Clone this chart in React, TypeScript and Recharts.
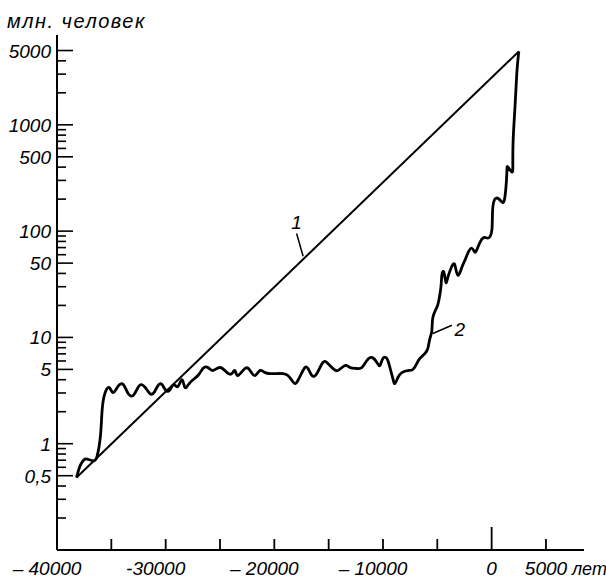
import React from "react";
import {
	LineChart,
	Line,
	XAxis,
	YAxis,
	ReferenceLine,
	ReferenceDot,
} from "recharts";

// line 1: straight trend (log scale)
const trendYears = [-38200, 2500];
const trendValues = [0.48, 4900];

// line 2: traced population curve
const curveYears = [
	-38200, -37900, -37500, -37100, -36600, -36300, -36000, -35850, -35600, -35200,
	-34850, -34400, -33900, -33450, -33000, -32650, -32270, -31800, -31450, -31080,
	-30700, -30340, -29970, -29600, -29240, -28870, -28500, -28220, -27760, -27030,
	-26570, -26110, -25650, -25000, -24360, -23900, -23620, -23350, -22700, -22240,
	-21780, -21320, -20860, -20400, -19760, -19210, -18750, -18380, -18100, -17830,
	-17460, -17180, -16900, -16540, -16080, -15530, -15070, -14610, -14150, -13500,
	-13040, -12400, -11940, -11480, -11020, -10560, -10280, -10010, -9640, -9360,
	-9090, -8900, -8630, -8260, -7710, -7250, -6880, -6600, -6140, -5870,
	-5680, -5500, -5410, -5040, -4860, -4670, -4580, -4400, -4210, -4030,
	-3660, -3380, -3110, -2740, -2460, -2190, -1820, -1540, -1270, -810,
	-350, 20, 110, 480, 940, 1220, 1400, 1490, 1860, 1950,
	1980, 2150, 2320, 2500,
];
const curveValues = [
	0.48, 0.61, 0.71, 0.71, 0.69, 0.77, 1.19, 2.05, 2.96, 3.38,
	3.03, 3.45, 3.6, 2.96, 2.84, 3.23, 3.6, 3.3, 2.96, 3.03,
	3.53, 3.6, 3.16, 3.23, 3.6, 3.45, 4.0, 3.38, 3.76, 4.38,
	5.1, 5.21, 4.88, 5.21, 4.67, 4.57, 4.88, 4.38, 5.1, 4.88,
	4.38, 4.88, 4.67, 4.57, 4.57, 4.57, 4.38, 3.93, 3.68, 3.93,
	4.67, 5.21, 5.1, 4.38, 4.57, 5.81, 5.69, 5.1, 4.88, 5.44,
	5.21, 5.1, 5.21, 6.07, 6.48, 5.81, 5.44, 6.34, 6.34, 5.21,
	4.1, 3.68, 4.19, 4.67, 4.88, 4.99, 5.69, 6.34, 7.06, 7.87,
	9.79, 11.6, 15.4, 19.2, 22.3, 29.6, 38.5, 41, 33, 36.8,
	46.7, 47.8, 38.5, 45.7, 53.2, 62, 69, 63.4, 70.6, 86,
	86, 102, 168, 205, 188, 209, 352, 402, 360, 420,
	722, 1480, 3100, 4900,
];

const xTicks = [-40000, -35000, -30000, -25000, -20000, -15000, -10000, -5000, 0, 5000];
const xLabelValues = [-40000, -30000, -20000, -10000, 0, 5000];
const xLabelTexts = ["–  40000", "-30000", "– 20000", "– 10000", "0", "5000"];

const yTicks = [
	0.2, 0.3, 0.4, 0.5, 0.6, 0.7, 0.8, 0.9, 1,
	2, 3, 4, 5, 6, 7, 8, 9, 10,
	20, 30, 40, 50, 60, 70, 80, 90, 100,
	200, 300, 400, 500, 600, 700, 800, 900, 1000,
	2000, 3000, 4000, 5000,
];
const yLabelValues = [0.5, 1, 5, 10, 50, 100, 500, 1000, 5000];
const yLabelTexts = ["0,5", "1", "5", "10", "50", "100", "500", "1000", "5000"];

const trendData = trendYears.map((x, i) => ({ x, y: trendValues[i] }));
const curveData = curveYears.map((x, i) => ({ x, y: curveValues[i] }));

const FONT = "'Liberation Sans', Arial, sans-serif";
const textStyle = { fontFamily: FONT, fontStyle: "italic", fontSize: 19, fill: "#000" } as const;


function XTick(props: any) {
	const { x, y, payload } = props;
	const v = payload.value;
	const len = v === 0 ? 23 : v === -40000 ? 0 : 11;
	const i = xLabelValues.indexOf(v);
	return (
		<g>
			{len > 0 && <line x1={x} x2={x} y1={y} y2={y - len} stroke="#000" strokeWidth={1.8} />}
			{i >= 0 && (
				<text x={x + (v < 0 ? -10 : 0)}
				      y={y + 25}
				      textAnchor="middle"
				      style={textStyle}>
					{xLabelTexts[i]}
				</text>
			)}
			{v === 5000 && (
				<text x={x + 26} y={y + 25} style={{ ...textStyle, fontSize: 18 }}>лет</text>
			)}
		</g>
	);
}

function YTick(props: any) {
	const { x, y, payload } = props;
	const v = payload.value;
	const i = yLabelValues.indexOf(v);
	const major = i >= 0;
	return (
		<g>
			<line x1={x} x2={x + (major ? 16 : 9)} y1={y} y2={y} stroke="#000" strokeWidth={1.6} />
			{major && (
				<text x={x - 6} y={y} dy={7} textAnchor="end" style={textStyle}>
					{yLabelTexts[i]}
				</text>
			)}
		</g>
	);
}


export default function App() {
	return (
		<div style={{ position: "absolute", left: 0, top: 0, width: 606, height: 578, background: "#fff" }}>
			<div style={{
				position: "absolute",
				left: 7,
				top: 10,
				fontFamily: FONT,
				fontStyle: "italic",
				fontSize: 20,
				letterSpacing: 1.5,
				color: "#000",
			}}>
				млн. человек
			</div>
			<LineChart width={606}
			           height={578}
			           margin={{ top: 35, right: 22, left: 0, bottom: 0 }}>
				<XAxis type="number"
				       dataKey="x"
				       domain={[-40000, 8500]}
				       allowDataOverflow
				       ticks={xTicks}
				       interval={0}
				       tick={<XTick />}
				       tickLine={false}
				       tickSize={0}
				       tickMargin={0}
				       height={28}
				       axisLine={{ stroke: "#000", strokeWidth: 2 }} />
				<YAxis type="number"
				       dataKey="y"
				       scale="log"
				       domain={[0.1, 7000]}
				       allowDataOverflow
				       ticks={yTicks}
				       interval={0}
				       tick={<YTick />}
				       tickLine={false}
				       tickSize={0}
				       tickMargin={0}
				       width={57}
				       axisLine={{ stroke: "#000", strokeWidth: 2 }} />
				<Line data={trendData}
				      dataKey="y"
				      type="linear"
				      stroke="#000"
				      strokeWidth={2}
				      dot={false}
				      isAnimationActive={false} />
				<Line data={curveData}
				      dataKey="y"
				      type="natural"
				      stroke="#000"
				      strokeWidth={2.8}
				      dot={false}
				      isAnimationActive={false} />
				<ReferenceLine segment={[{ x: -17950, y: 95 }, { x: -17350, y: 58 }]}
				               stroke="#000"
				               strokeWidth={1.5}
				               ifOverflow="visible" />
				<ReferenceDot x={-17950}
				              y={95}
				              r={0}
				              stroke="none"
				              fill="none"
				              ifOverflow="visible"
				              label={{ value: "1", position: "top", offset: 4, style: textStyle }} />
				<ReferenceLine segment={[{ x: -5410, y: 10.9 }, { x: -3660, y: 13 }]}
				               stroke="#000"
				               strokeWidth={1.5}
				               ifOverflow="visible" />
				<ReferenceDot x={-3600}
				              y={11.9}
				              r={0}
				              stroke="none"
				              fill="none"
				              ifOverflow="visible"
				              label={{ value: "2", position: "right", offset: 2, style: textStyle }} />
			</LineChart>
		</div>
	);
}
